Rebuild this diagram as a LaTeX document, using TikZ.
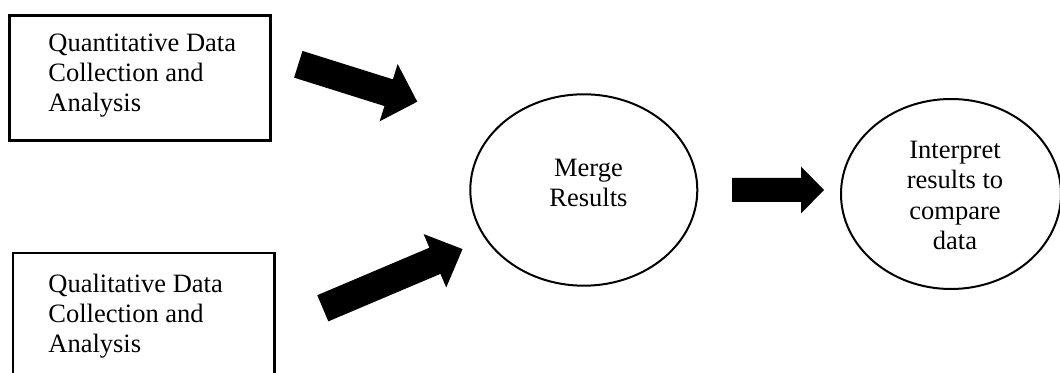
\documentclass[tikz,border=0pt]{standalone}
\usepackage{fontspec}
\setmainfont{Liberation Serif}
\usetikzlibrary{calc,shapes.geometric}

\tikzset{
  frame/.style={draw, rectangle, line width=1.2pt, inner sep=0pt},
  bubble/.style={draw, ellipse, line width=1pt, inner sep=0pt},
  caption/.style={inner sep=0pt, font=\fontsize{13.25pt}{15pt}\selectfont},
}

% Solid block arrow from coordinate #1 (middle of the tail) to coordinate #2 (tip);
% #3 shaft width, #4 head width, #5 head length.
\newcommand\blockarrow[5]{%
  \fill let \p1=($(#2)-(#1)$), \n1={atan2(\y1,\x1)}, \n2={veclen(\x1,\y1)} in
    [shift={(#1)}, rotate=\n1]
    (0pt,{-#3/2}) -- ({\n2-#5},{-#3/2}) -- ({\n2-#5},{-#4/2}) -- (\n2,0pt)
    -- ({\n2-#5},{#4/2}) -- ({\n2-#5},{#3/2}) -- (0pt,{#3/2}) -- cycle;%
}

\begin{document}
\begin{tikzpicture}[x=0.5pt, y=-0.5pt]
  \useasboundingbox (0,0) rectangle (1060,373);
  \clip (0,0) rectangle (1060,373);

  % data collection boxes
  \node[frame, minimum width=130.5pt, minimum height=62.5pt] (quanbox) at (140,78) {};
  \node[caption, anchor=west, align=left] (quantext) at (48,75.7)
    {Quantitative Data\\Collection and\\Analysis};

  \node[frame, minimum width=130.85pt, minimum height=62.5pt] (qualbox) at (143.8,315.3) {};
  \node[caption, anchor=west, align=left] (qualtext) at (48,315.7)
    {Qualitative Data\\Collection and\\Analysis};

  % merge and interpretation stages
  \node[bubble, minimum width=113.5pt, minimum height=95.7pt] (merge) at (583.8,190) {};
  \node[caption, align=center] (mergetext) at (588.5,182.7) {Merge\\Results};

  \node[bubble, minimum width=110pt, minimum height=95pt] (interp) at (951,194) {};
  \node[caption, align=center, font=\fontsize{13.25pt}{15.3pt}\selectfont] (interptext) at (955,195.4)
    {Interpret\\results to\\compare\\data};

  % block arrows
  \coordinate (quanfrom) at (298.3,64.3);
  \coordinate (quanto)   at (417.3,101.7);
  \coordinate (qualfrom) at (322.8,308.3);
  \coordinate (qualto)   at (462.7,249);
  \coordinate (mergefrom) at (732,190);
  \coordinate (mergeto)   at (824,190);

  \blockarrow{quanfrom}{quanto}{14pt}{30pt}{15pt}
  \blockarrow{qualfrom}{qualto}{14.2pt}{29pt}{15pt}
  \blockarrow{mergefrom}{mergeto}{12pt}{23.5pt}{11.5pt}
\end{tikzpicture}
\end{document}
